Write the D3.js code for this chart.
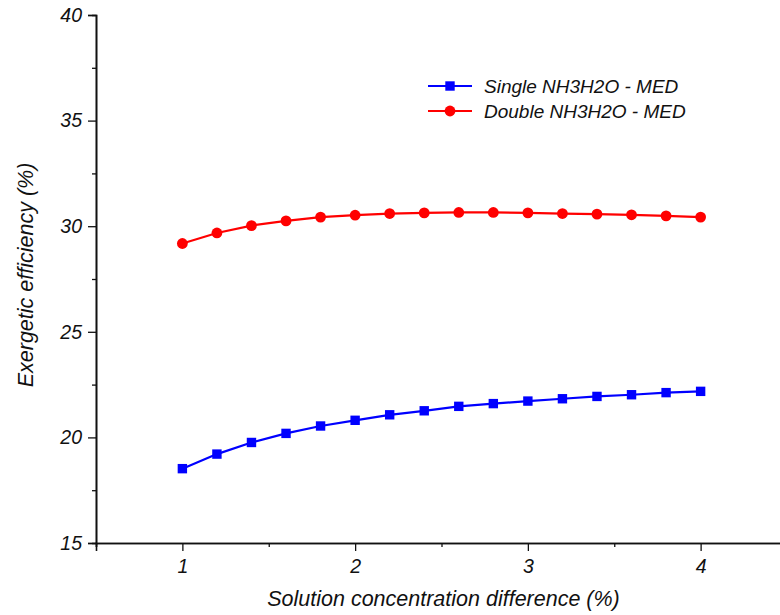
<!DOCTYPE html>
<html>
<head>
<meta charset="utf-8">
<script src="https://cdn.jsdelivr.net/npm/d3@7"></script>
<style>
  html, body { margin: 0; padding: 0; background: #fff; }
  svg text { font-family: "Liberation Sans", Arial, sans-serif; font-style: italic; fill: #111; }
</style>
</head>
<body>
<svg id="chart" width="780" height="615"></svg>
<script>
// Solution concentration difference (%)
const concentration = [1.0, 1.2, 1.4, 1.6, 1.8, 2.0, 2.2, 2.4, 2.6, 2.8, 3.0, 3.2, 3.4, 3.6, 3.8, 4.0];
// Exergetic efficiency (%) per configuration
const singleMED = [18.52, 19.21, 19.76, 20.19, 20.54, 20.81, 21.07, 21.26, 21.47, 21.60, 21.72, 21.83, 21.94, 22.02, 22.12, 22.18];
const doubleMED = [29.18, 29.68, 30.03, 30.25, 30.43, 30.52, 30.60, 30.63, 30.65, 30.65, 30.63, 30.60, 30.57, 30.54, 30.49, 30.43];
const xTicks = [1, 2, 3, 4];
const yTicks = [15, 20, 25, 30, 35, 40];
const seriesNames = ["Single NH3H2O - MED", "Double NH3H2O - MED"];

const svg = d3.select("#chart");
const x = d3.scaleLinear().domain([0.5, 4.5]).range([96, 787]);
const y = d3.scaleLinear().domain([15, 40]).range([543, 15]);

// Left axis: major ticks with labels, unlabeled minor ticks halfway between
const yAxis = svg.append("g").attr("transform", `translate(${x(0.5)},0)`);
yAxis.call(d3.axisLeft(y).tickValues(yTicks).tickSize(8).tickPadding(6).tickFormat(d3.format("d")));
yAxis.append("g").call(d3.axisLeft(y).tickValues(d3.range(17.5, 40, 5)).tickSize(4).tickFormat(""));

const xAxis = svg.append("g").attr("transform", `translate(0,${y(15)})`);
xAxis.call(d3.axisBottom(x).tickValues(xTicks).tickSize(8).tickPadding(8).tickFormat(d3.format("d")));
xAxis.append("g").call(d3.axisBottom(x).tickValues([0.5, 1.5, 2.5, 3.5]).tickSize(4).tickFormat(""));

svg.selectAll(".domain").attr("stroke", "#111").attr("stroke-width", 1.6);
svg.selectAll(".tick line").attr("stroke", "#111").attr("stroke-width", 1.3);
svg.selectAll(".tick text").attr("font-size", 19.5).style("font-style", "italic").attr("fill", "#111")
  .attr("font-family", "'Liberation Sans', Arial, sans-serif");
// the minor tick groups share the main axis line
yAxis.select("g").select(".domain").remove();
xAxis.select("g").select(".domain").remove();

// Axis titles
svg.append("text")
  .attr("x", x(2.5) + 2).attr("y", 606)
  .attr("text-anchor", "middle").attr("font-size", 21.5)
  .text("Solution concentration difference (%)");
svg.append("text")
  .attr("transform", "translate(33,275) rotate(-90)")
  .attr("text-anchor", "middle").attr("font-size", 21.5)
  .text("Exergetic efficiency (%)");

const line = d3.line().x(d => x(d[0])).y(d => y(d[1]));
const singlePts = concentration.map((c, i) => [c, singleMED[i]]);
const doublePts = concentration.map((c, i) => [c, doubleMED[i]]);

// Single-effect series: blue line with square markers
svg.append("path").datum(singlePts).attr("d", line)
  .attr("fill", "none").attr("stroke", "#0000ff").attr("stroke-width", 2.2);
svg.append("g").selectAll("rect").data(singlePts).join("rect")
  .attr("x", d => x(d[0]) - 4.7).attr("y", d => y(d[1]) - 4.7)
  .attr("width", 9.4).attr("height", 9.4).attr("fill", "#0000ff");

// Double-effect series: red line with circle markers
svg.append("path").datum(doublePts).attr("d", line)
  .attr("fill", "none").attr("stroke", "#ff0000").attr("stroke-width", 2.2);
svg.append("g").selectAll("circle").data(doublePts).join("circle")
  .attr("cx", d => x(d[0])).attr("cy", d => y(d[1])).attr("r", 5.4)
  .attr("fill", "#ff0000");

// Legend
const legend = svg.append("g");
const colors = ["#0000ff", "#ff0000"];
seriesNames.forEach((name, i) => {
  const ly = 86 + i * 25;
  legend.append("line").attr("x1", 428).attr("x2", 472).attr("y1", ly).attr("y2", ly)
    .attr("stroke", colors[i]).attr("stroke-width", 2.2);
  if (i === 0) {
    legend.append("rect").attr("x", 450 - 4.7).attr("y", ly - 4.7).attr("width", 9.4).attr("height", 9.4).attr("fill", colors[i]);
  } else {
    legend.append("circle").attr("cx", 450).attr("cy", ly).attr("r", 5.4).attr("fill", colors[i]);
  }
  legend.append("text").attr("x", 484).attr("y", ly + 7).attr("font-size", 19).text(name);
});
</script>
</body>
</html>
